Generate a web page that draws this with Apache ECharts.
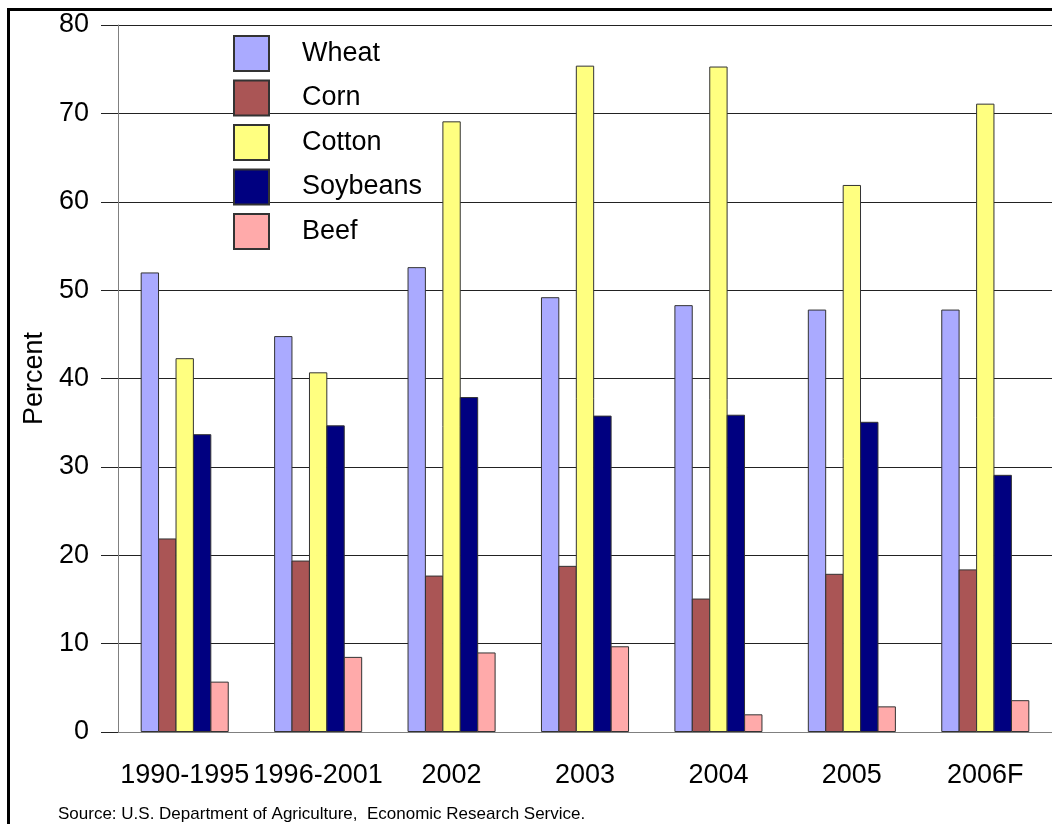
<!DOCTYPE html>
<html>
<head>
<meta charset="utf-8">
<script src="https://cdn.jsdelivr.net/npm/echarts@6/dist/echarts.min.js"></script>
<style>html,body{margin:0;padding:0;background:#fff}#c{width:1052px;height:824px}</style>
</head>
<body>
<div id="c"></div>
<script>
const categories = ['1990-1995', '1996-2001', '2002', '2003', '2004', '2005', '2006F'];
const wheat    = [52.0, 44.8, 52.6, 49.2, 48.3, 47.8, 47.8];
const corn     = [21.9, 19.4, 17.7, 18.8, 15.1, 17.9, 18.4];
const cotton   = [42.3, 40.7, 69.1, 75.4, 75.3, 61.9, 71.1];
const soybeans = [33.7, 34.7, 37.9, 35.8, 35.9, 35.1, 29.1];
const beef     = [5.7, 8.5, 9.0, 9.7, 2.0, 2.9, 3.6];
const yTicks = [0, 10, 20, 30, 40, 50, 60, 70, 80];
const seriesNames = ['Wheat', 'Corn', 'Cotton', 'Soybeans', 'Beef'];
const seriesData = [wheat, corn, cotton, soybeans, beef];
const colors = ['#AAAAFF', '#AA5555', '#FFFF80', '#000080', '#FFAAAA'];

const FONT = 'Arial, "Liberation Sans", sans-serif';
const chart = echarts.init(document.getElementById('c'));
chart.setOption({
  animation: false,
  textStyle: { fontFamily: FONT },
  grid: { left: 118, top: 25, width: 946, height: 707, containLabel: false },
  legend: {
    orient: 'vertical', left: 233, top: 35, padding: 0,
    itemWidth: 35, itemHeight: 35, itemGap: 7.5,
    icon: 'rect',
    textStyle: { fontSize: 27, color: '#000', fontFamily: FONT, padding: [0, 0, 0, 28] },
    data: seriesNames
  },
  xAxis: [{
    type: 'category', data: categories,
    axisLine: { lineStyle: { color: '#808080', width: 1 } },
    axisTick: { alignWithLabel: true, length: 9, lineStyle: { color: '#808080' } },
    axisLabel: { fontSize: 27, color: '#000', margin: 30, fontFamily: FONT, interval: 0 },
    splitLine: { show: false }
  }, {
    type: 'category', data: categories, position: 'bottom',
    axisLine: { show: false },
    axisTick: { alignWithLabel: false, length: 3, lineStyle: { color: '#000' } },
    axisLabel: { show: false },
    splitLine: { show: false }
  }],
  yAxis: {
    type: 'value', min: 0, max: 80, interval: 10,
    name: 'Percent', nameLocation: 'middle', nameRotate: 90, nameGap: 59,
    nameTextStyle: { fontSize: 27, color: '#000', fontFamily: FONT },
    axisLine: { show: true, lineStyle: { color: '#808080' } },
    axisTick: { show: true, length: 17, lineStyle: { color: '#222' } },
    axisLabel: { fontSize: 27, color: '#000', margin: 29, fontFamily: FONT,
      formatter: v => yTicks.includes(v) ? String(v) : '' },
    splitLine: { show: true, lineStyle: { color: '#222', width: 1 } }
  },
  series: seriesNames.map((n, i) => ({
    name: n, type: 'bar', data: seriesData[i], xAxisIndex: 0,
    barGap: '-5%', barCategoryGap: '34%',
    itemStyle: { color: colors[i], borderColor: '#333', borderWidth: 1 }
  })),
  graphic: [
    { type: 'line', shape: { x1: 8.5, y1: 8, x2: 8.5, y2: 824 }, style: { stroke: '#000', lineWidth: 3 }, silent: true },
    { type: 'line', shape: { x1: 7, y1: 9.5, x2: 1052, y2: 9.5 }, style: { stroke: '#000', lineWidth: 3 }, silent: true },
    { type: 'text', left: 58, top: 806, style: { text: 'Source: U.S. Department of Agriculture,  Economic Research Service.', font: '17px ' + FONT, fill: '#000' } }
  ]
});
</script>
</body>
</html>
